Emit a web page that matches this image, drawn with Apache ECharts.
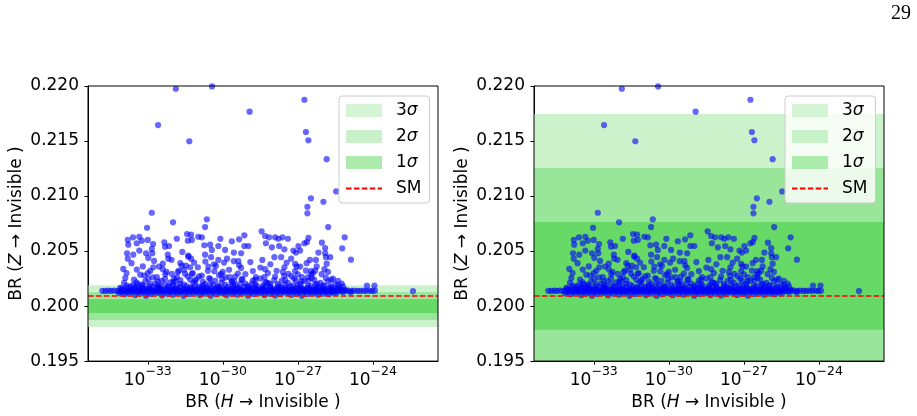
<!DOCTYPE html>
<html>
<head>
<meta charset="utf-8">
<script src="https://cdn.jsdelivr.net/npm/echarts@6/dist/echarts.min.js"></script>
<style>
html,body{margin:0;padding:0;background:#fff;}
#c{width:917px;height:416px;}
</style>
</head>
<body>
<div id="c"></div>
<script>
// ---------------- DATA ----------------
// points stored as [log10 BR(H->inv), BR(Z->inv)]
const outlierPoints = [
  [-31.88,0.21975],[-30.43,0.21996],[-32.59,0.21645],[-31.34,0.21498],[-28.93,0.21767],
  [-26.74,0.21875],[-26.68,0.21582],[-26.58,0.21507],[-25.85,0.21335],[-25.47,0.21042],
  [-26.48,0.20979],[-25.98,0.20948],[-26.62,0.20902],[-26.62,0.20843],[-32.84,0.20848],
  [-31.99,0.20761],[-30.64,0.20788],[-33.03,0.20712],[-25.79,0.20718],[-30.71,0.20718],
  [-28.45,0.20679],[-25.13,0.20625],[-25.23,0.20525],[-24.88,0.20422],[-22.40,0.20136],
  [-24.24,0.20187],[-23.94,0.20187]
];
const scatterLeft = [
  [-31.84,0.20612],[-33.80,0.20601],[-33.59,0.20625],[-33.34,0.20630],[-33.24,0.20594],
  [-33.00,0.20601],[-33.78,0.20558],[-33.44,0.20571],[-32.79,0.20564],[-32.84,0.20519],
  [-33.34,0.20504],[-33.83,0.20480],[-33.58,0.20467],[-33.07,0.20480],[-32.82,0.20480],
  [-32.98,0.20438],[-33.80,0.20431],[-32.34,0.20580],[-32.31,0.20540],[-32.15,0.20546],
  [-32.20,0.20467],[-32.18,0.20431],[-31.62,0.20492],[-31.43,0.20655],[-31.40,0.20594],
  [-31.38,0.20449],[-33.98,0.20338],[-33.44,0.20332],[-32.78,0.20353],[-32.55,0.20359],
  [-33.14,0.20277],[-32.98,0.20247],[-32.64,0.20263],[-32.31,0.20247],[-32.04,0.20293],
  [-31.84,0.20263],[-31.64,0.20368],[-31.51,0.20293],[-31.48,0.20368],[-31.75,0.20322],
  [-32.51,0.20187],[-31.98,0.20217],[-33.84,0.20187],[-33.24,0.20196],[-33.51,0.20172]
];
const scatterMiddle = [
  [-31.27,0.20649],[-30.98,0.20630],[-30.84,0.20625],[-31.24,0.20601],[-30.51,0.20558],
  [-30.74,0.20553],[-30.44,0.20510],[-30.18,0.20546],[-30.10,0.20612],[-29.64,0.20589],
  [-29.35,0.20607],[-29.14,0.20643],[-28.98,0.20546],[-29.14,0.20546],[-29.91,0.20510],
  [-29.56,0.20486],[-29.27,0.20480],[-28.31,0.20637],[-28.15,0.20625],[-27.91,0.20625],
  [-28.28,0.20571],[-28.04,0.20534],[-31.38,0.20458],[-31.27,0.20431],[-30.71,0.20467],
  [-30.47,0.20444],[-30.18,0.20419],[-29.83,0.20431],[-29.56,0.20408],[-29.38,0.20408],
  [-28.42,0.20419],[-27.94,0.20444],[-31.31,0.20353],[-31.00,0.20353],[-30.58,0.20359],
  [-30.28,0.20365],[-29.27,0.20347],[-28.31,0.20335],[-31.24,0.20293],[-30.84,0.20277],
  [-30.34,0.20317],[-30.07,0.20293],[-29.73,0.20263],[-29.51,0.20268],[-29.22,0.20245],
  [-28.68,0.20263],[-28.34,0.20263],[-27.91,0.20268],[-30.02,0.20247],[-31.11,0.20232],
  [-30.71,0.20202],[-29.64,0.20217],[-28.18,0.20208],[-28.84,0.20202]
];
const scatterRight = [
  [-27.62,0.20625],[-27.40,0.20612],[-27.78,0.20612],[-26.58,0.20619],[-26.64,0.20582],
  [-26.74,0.20571],[-26.04,0.20576],[-27.75,0.20546],[-27.54,0.20516],[-27.18,0.20504],
  [-26.98,0.20546],[-26.91,0.20504],[-27.08,0.20486],[-26.18,0.20486],[-25.91,0.20528],
  [-25.91,0.20480],[-25.71,0.20444],[-25.88,0.20444],[-27.67,0.20444],[-27.27,0.20431],
  [-26.52,0.20419],[-26.28,0.20419],[-27.54,0.20353],[-27.11,0.20383],[-26.91,0.20359],
  [-26.68,0.20322],[-26.47,0.20317],[-26.31,0.20322],[-25.94,0.20335],[-27.38,0.20293],
  [-27.11,0.20317],[-26.84,0.20263],[-26.47,0.20286],[-25.88,0.20256],[-25.67,0.20238],
  [-27.51,0.20238],[-27.08,0.20232],[-26.58,0.20232],[-26.24,0.20202]
];
const scatterExtra = [
  [-33.90,0.20255],[-33.65,0.20390],[-33.45,0.20215],[-33.20,0.20360],[-33.00,0.20300],
  [-32.75,0.20410],[-32.60,0.20225],[-32.40,0.20385],[-32.25,0.20310],[-32.05,0.20420],
  [-31.90,0.20225],[-31.70,0.20390],[-31.55,0.20330],[-31.30,0.20240],[-31.15,0.20395],
  [-30.95,0.20270],[-30.70,0.20405],[-30.50,0.20245],[-30.35,0.20380],[-30.15,0.20280],
  [-29.95,0.20395],[-29.75,0.20330],[-29.55,0.20225],[-29.35,0.20370],[-29.10,0.20290],
  [-28.90,0.20400],[-28.70,0.20240],[-28.50,0.20350],[-28.30,0.20215],[-28.10,0.20380],
  [-27.85,0.20320],[-27.65,0.20230],[-27.45,0.20395],[-27.25,0.20270],[-27.05,0.20360],
  [-26.85,0.20225],[-26.65,0.20390],[-26.45,0.20255],[-26.25,0.20360],[-26.05,0.20290],
  [-25.85,0.20385],[-25.60,0.20250],[-25.40,0.20230],[-25.25,0.20205]
];
const scatterLow = [
  [-34.10,0.20165],[-33.95,0.20210],[-33.70,0.20178],[-33.55,0.20240],[-33.40,0.20200],
  [-33.25,0.20165],[-33.10,0.20225],[-32.95,0.20182],[-32.80,0.20260],[-32.70,0.20205],
  [-32.55,0.20170],[-32.45,0.20230],[-32.30,0.20290],[-32.20,0.20178],[-32.10,0.20215],
  [-31.95,0.20250],[-31.85,0.20172],[-31.70,0.20235],[-31.55,0.20195],[-31.40,0.20268],
  [-31.30,0.20168],[-31.18,0.20210],[-31.05,0.20245],[-30.95,0.20178],[-30.80,0.20222],
  [-30.65,0.20170],[-30.55,0.20255],[-30.40,0.20195],[-30.30,0.20230],[-30.15,0.20168],
  [-30.05,0.20212],[-29.90,0.20260],[-29.80,0.20175],[-29.65,0.20228],[-29.50,0.20190],
  [-29.40,0.20168],[-29.25,0.20240],[-29.10,0.20205],[-28.95,0.20172],[-28.80,0.20232],
  [-28.65,0.20185],[-28.50,0.20250],[-28.40,0.20168],[-28.25,0.20215],[-28.10,0.20175],
  [-27.95,0.20235],[-27.80,0.20200],[-27.70,0.20168],[-27.55,0.20275],[-27.40,0.20210],
  [-27.30,0.20178],[-27.15,0.20250],[-27.00,0.20190],[-26.88,0.20170],[-26.75,0.20228],
  [-26.60,0.20262],[-26.48,0.20182],[-26.35,0.20240],[-26.22,0.20172],[-26.10,0.20210],
  [-25.95,0.20185],[-25.80,0.20225],[-25.65,0.20170],[-25.50,0.20200],[-25.35,0.20168],
  [-25.20,0.20180],[-33.85,0.20300],[-33.30,0.20285],[-32.90,0.20320],[-32.40,0.20335],
  [-31.80,0.20310],[-31.20,0.20300],[-30.60,0.20320],[-30.00,0.20310],[-29.40,0.20295],
  [-28.80,0.20318],[-28.20,0.20300],[-27.60,0.20310],[-27.00,0.20288],[-26.40,0.20300],
  [-25.80,0.20310]
];
const stripCentre = [
  [-34.82,0.20139],[-34.70,0.20138],[-34.58,0.20140],[-34.47,0.20139],[-34.35,0.20141],
  [-34.22,0.20138],[-34.10,0.20140],[-33.99,0.20142],[-33.86,0.20139],[-33.74,0.20143],
  [-33.63,0.20137],[-33.50,0.20141],[-33.38,0.20144],[-33.27,0.20139],[-33.15,0.20142],
  [-33.02,0.20138],[-32.90,0.20145],[-32.79,0.20140],[-32.66,0.20137],[-32.55,0.20143],
  [-32.42,0.20139],[-32.31,0.20146],[-32.18,0.20141],[-32.06,0.20138],[-31.95,0.20144],
  [-31.83,0.20140],[-31.70,0.20137],[-31.58,0.20145],[-31.47,0.20141],[-31.35,0.20139],
  [-31.22,0.20143],[-31.11,0.20138],[-30.99,0.20146],[-30.86,0.20140],[-30.75,0.20137],
  [-30.62,0.20144],[-30.51,0.20141],[-30.38,0.20139],[-30.27,0.20145],[-30.14,0.20138],
  [-30.03,0.20142],[-29.90,0.20140],[-29.79,0.20137],[-29.66,0.20144],[-29.55,0.20139],
  [-29.42,0.20146],[-29.31,0.20141],[-29.18,0.20138],[-29.07,0.20143],[-28.94,0.20140],
  [-28.83,0.20137],[-28.70,0.20145],[-28.59,0.20139],[-28.46,0.20142],[-28.35,0.20138],
  [-28.22,0.20144],[-28.11,0.20140],[-27.98,0.20137],[-27.87,0.20143],[-27.74,0.20141],
  [-27.63,0.20138],[-27.50,0.20145],[-27.39,0.20140],[-27.26,0.20137],[-27.15,0.20142],
  [-27.02,0.20139],[-26.91,0.20144],[-26.78,0.20140],[-26.67,0.20137],[-26.54,0.20142],
  [-26.43,0.20139],[-26.30,0.20141],[-26.19,0.20138],[-26.06,0.20140],[-25.95,0.20139],
  [-25.82,0.20141],[-25.71,0.20138],[-25.58,0.20140],[-25.47,0.20139],[-25.34,0.20138],
  [-25.23,0.20140],[-25.10,0.20139],[-24.99,0.20141],[-24.86,0.20138],[-24.75,0.20140],
  [-24.62,0.20139],[-24.51,0.20138],[-24.38,0.20140],[-24.27,0.20139],[-24.14,0.20141],
  [-24.03,0.20138],[-23.92,0.20140]
];
const stripMid = [
  [-33.95,0.20150],[-33.72,0.20148],[-33.50,0.20153],[-33.29,0.20147],[-33.07,0.20152],
  [-32.86,0.20149],[-32.65,0.20154],[-32.44,0.20148],[-32.22,0.20151],[-32.01,0.20147],
  [-31.80,0.20153],[-31.59,0.20150],[-31.38,0.20148],[-31.16,0.20152],[-30.95,0.20149],
  [-30.74,0.20154],[-30.53,0.20147],[-30.31,0.20151],[-30.10,0.20150],[-29.89,0.20148],
  [-29.68,0.20153],[-29.47,0.20149],[-29.26,0.20152],[-29.04,0.20147],[-28.83,0.20151],
  [-28.62,0.20150],[-28.41,0.20154],[-28.19,0.20148],[-27.98,0.20152],[-27.77,0.20149],
  [-27.56,0.20151],[-27.35,0.20147],[-27.13,0.20153],[-26.92,0.20150],[-26.71,0.20148],
  [-26.50,0.20152],[-26.29,0.20149],[-26.07,0.20151],[-25.86,0.20148],[-25.65,0.20150],
  [-25.44,0.20149]
];
const stripUpper = [
  [-34.05,0.20158],[-33.82,0.20165],[-33.61,0.20152],[-33.40,0.20170],[-33.18,0.20160],
  [-32.97,0.20155],[-32.76,0.20172],[-32.55,0.20162],[-32.33,0.20150],[-32.12,0.20168],
  [-31.91,0.20158],[-31.70,0.20175],[-31.49,0.20155],[-31.27,0.20165],[-31.06,0.20152],
  [-30.85,0.20170],[-30.64,0.20160],[-30.42,0.20155],[-30.21,0.20173],[-30.00,0.20162],
  [-29.79,0.20152],[-29.58,0.20168],[-29.37,0.20158],[-29.15,0.20175],[-28.94,0.20155],
  [-28.73,0.20165],[-28.52,0.20152],[-28.30,0.20170],[-28.09,0.20160],[-27.88,0.20155],
  [-27.67,0.20173],[-27.46,0.20162],[-27.24,0.20152],[-27.03,0.20168],[-26.82,0.20158],
  [-26.61,0.20165],[-26.40,0.20152],[-26.18,0.20160],[-25.97,0.20155],[-25.76,0.20162],
  [-25.55,0.20152],[-25.34,0.20158],[-25.12,0.20150]
];
const stripLowMid = [
  [-34.05,0.20128],[-33.83,0.20125],[-33.61,0.20130],[-33.40,0.20126],[-33.18,0.20129],
  [-32.97,0.20124],[-32.76,0.20131],[-32.54,0.20127],[-32.32,0.20125],[-32.11,0.20130],
  [-31.89,0.20126],[-31.68,0.20129],[-31.46,0.20124],[-31.25,0.20131],[-31.03,0.20127],
  [-30.82,0.20125],[-30.60,0.20130],[-30.39,0.20126],[-30.17,0.20129],[-29.96,0.20124],
  [-29.74,0.20131],[-29.53,0.20127],[-29.31,0.20125],[-29.10,0.20130],[-28.88,0.20126],
  [-28.67,0.20129],[-28.45,0.20124],[-28.24,0.20131],[-28.02,0.20127],[-27.81,0.20125],
  [-27.59,0.20130],[-27.38,0.20126],[-27.16,0.20129],[-26.95,0.20124],[-26.73,0.20131],
  [-26.52,0.20127],[-26.30,0.20125],[-26.09,0.20130],[-25.87,0.20126],[-25.66,0.20129],
  [-25.44,0.20124],[-25.20,0.20128],[-24.90,0.20126]
];
const stripLower = [
  [-34.15,0.20118],[-33.93,0.20108],[-33.72,0.20122],[-33.50,0.20100],[-33.29,0.20115],
  [-33.07,0.20095],[-32.86,0.20110],[-32.64,0.20120],[-32.43,0.20098],[-32.21,0.20112],
  [-32.00,0.20104],[-31.78,0.20118],[-31.57,0.20093],[-31.35,0.20110],[-31.14,0.20122],
  [-30.92,0.20100],[-30.71,0.20115],[-30.49,0.20094],[-30.28,0.20108],[-30.06,0.20120],
  [-29.85,0.20099],[-29.63,0.20112],[-29.42,0.20104],[-29.20,0.20118],[-28.99,0.20095],
  [-28.77,0.20110],[-28.56,0.20120],[-28.34,0.20100],[-28.13,0.20113],[-27.91,0.20096],
  [-27.70,0.20109],[-27.48,0.20121],[-27.27,0.20101],[-27.05,0.20114],[-26.84,0.20095],
  [-26.62,0.20110],[-26.41,0.20119],[-26.19,0.20103],[-25.98,0.20115],[-25.76,0.20108],
  [-25.55,0.20120]
];
const stripTop = [
  [-33.60,0.20190],[-33.20,0.20185],[-32.90,0.20200],[-32.60,0.20180],[-32.30,0.20195],
  [-32.00,0.20188],[-31.70,0.20202],[-31.45,0.20182],[-31.10,0.20196],[-30.80,0.20186],
  [-30.50,0.20200],[-30.20,0.20181],[-29.90,0.20194],[-29.60,0.20187],[-29.30,0.20205],
  [-29.00,0.20183],[-28.70,0.20196],[-28.40,0.20185],[-28.10,0.20200],[-27.80,0.20182],
  [-27.50,0.20192],[-27.20,0.20188],[-26.90,0.20203],[-26.60,0.20183],[-26.30,0.20195],
  [-26.00,0.20186],[-25.70,0.20180],[-25.40,0.20190]
];

const smValue = 0.20096;
// sigma bands [low, high] for 1σ, 2σ, 3σ
const bandsLeft  = [[0.19937,0.20063],[0.19874,0.20126],[0.19811,0.20189]];
const bandsRight = [[0.19785,0.20765],[0.19295,0.21255],[0.18805,0.21745]];
const bandNames  = ['1σ','2σ','3σ'];
const bandColors = ['#66d966','#99e599','#ccf2cc'];
const legendColors = ['#99e699','#bbeebb','#ccf2cc'];

const xTickExps = [-33,-30,-27,-24];     // log10 positions of x tick labels
const xRangeExp = [-35.39,-21.40];       // log10 axis range
const yTicks = {min:0.195, max:0.220, step:0.005};

// ---------------- CHART ----------------
const allPts = [].concat(stripLower, stripLowMid, stripCentre, stripMid, stripUpper, stripTop,
                         scatterLow, scatterExtra, scatterLeft, scatterMiddle, scatterRight, outlierPoints);

const FONT = 'DejaVu Sans';
const chart = echarts.init(document.getElementById('c'), null, {renderer:'canvas'});

const grids = [
  {left:88, top:86, width:350, height:276},
  {left:534, top:86, width:350, height:276}
];

function xAxisFor(i){
  return {
    // logarithmic BR(H): values on this axis are log10(BR)
    type:'value', gridIndex:i, min:xRangeExp[0], max:xRangeExp[1],
    name:'BR ({i|H} → Invisible )', nameLocation:'middle', nameGap:32,
    nameTextStyle:{fontFamily:FONT, fontSize:17, color:'#000',
      rich:{i:{fontFamily:FONT, fontSize:17, fontStyle:'italic', color:'#000'}}},
    axisLine:{show:true, onZero:false, lineStyle:{color:'#000', width:1}},
    axisTick:{show:true, inside:false, length:3.5, lineStyle:{color:'#000', width:1},
      customValues: xTickExps},
    splitLine:{show:false},
    axisLabel:{show:true, margin:4, customValues: xTickExps,
      formatter: v => '{b|10}{s|−' + Math.abs(Math.round(v)) + '}',
      rich:{
        b:{fontFamily:FONT, fontSize:17, color:'#000', lineHeight:24, verticalAlign:'bottom'},
        s:{fontFamily:FONT, fontSize:12.5, color:'#000', lineHeight:16, verticalAlign:'top'}
      }}
  };
}
function yAxisFor(i){
  return {
    type:'value', gridIndex:i, min:yTicks.min, max:yTicks.max, interval:yTicks.step,
    name:'BR ({i|Z} → Invisible )', nameLocation:'middle', nameGap:63, nameRotate:90,
    nameTextStyle:{fontFamily:FONT, fontSize:17, color:'#000',
      rich:{i:{fontFamily:FONT, fontSize:17, fontStyle:'italic', color:'#000'}}},
    axisLine:{show:true, lineStyle:{color:'#000', width:1}},
    axisTick:{show:true, inside:false, length:3.5, lineStyle:{color:'#000', width:1}},
    splitLine:{show:false},
    axisLabel:{fontFamily:FONT, fontSize:17, color:'#000', margin:9,
      formatter: v => v.toFixed(3)}
  };
}

const series = [];
[bandsLeft, bandsRight].forEach((bands, gi) => {
  for (let k = 2; k >= 0; k--) {
    series.push({
      type:'scatter', name:bandNames[k], xAxisIndex:gi, yAxisIndex:gi, data:[],
      z:1, itemStyle:{color:legendColors[k]},
      markArea:{silent:true, itemStyle:{color:bandColors[k], opacity:1},
        data:[[{yAxis:Math.max(bands[k][0], yTicks.min)}, {yAxis:Math.min(bands[k][1], yTicks.max)}]]}
    });
  }
  series.push({
    type:'scatter', name:'points', xAxisIndex:gi, yAxisIndex:gi, data:allPts,
    symbolSize:6.2, z:3, itemStyle:{color:'rgba(0,0,255,0.75)'}, silent:true
  });
  series.push({
    type:'line', name:'SM', xAxisIndex:gi, yAxisIndex:gi, data:[], symbol:'none', z:4,
    lineStyle:{color:'#ff0000', type:[5.5,2.4], width:1.5},
    itemStyle:{color:'#ff0000'},
    markLine:{silent:true, precision:6, symbol:['none','none'], label:{show:false},
      lineStyle:{color:'#ff0000', type:[5.5,2.4], width:1.5},
      data:[{yAxis:smValue}]}
  });
});

const legendData = [
  {name:'3σ', icon:'rect', itemStyle:{color:legendColors[2]}},
  {name:'2σ', icon:'rect', itemStyle:{color:legendColors[1]}},
  {name:'1σ', icon:'rect', itemStyle:{color:legendColors[0]}},
  {name:'SM', itemStyle:{opacity:0}}
];
function legendFor(left){
  return {
    left:left, top:96, orient:'vertical', data:legendData, selectedMode:false,
    backgroundColor:'rgba(255,255,255,0.8)', borderColor:'#cccccc', borderWidth:1, borderRadius:3,
    padding:[6,8,6,6], itemWidth:36, itemHeight:13, itemGap:9,
    formatter: n => n === 'SM' ? 'SM' : n.charAt(0) + '{i|σ}',
    textStyle:{fontFamily:FONT, fontSize:17, color:'#000', padding:[0,0,0,9],
      rich:{i:{fontFamily:FONT, fontSize:17, fontStyle:'italic', color:'#000'}}}
  };
}

chart.setOption({
  animation:false,
  backgroundColor:'#fff',
  grid: grids.map(g => Object.assign({show:true, borderColor:'#000', borderWidth:1, backgroundColor:'transparent', z:10}, g)),
  xAxis:[xAxisFor(0), xAxisFor(1)],
  yAxis:[yAxisFor(0), yAxisFor(1)],
  legend:[legendFor(339), legendFor(785)],
  series: series,
  graphic:[{type:'text', x:911, y:14, style:{text:'29', fontFamily:'Liberation Serif', fontSize:20,
    fill:'#000', align:'right', verticalAlign:'middle'}}]
});
</script>
</body>
</html>
